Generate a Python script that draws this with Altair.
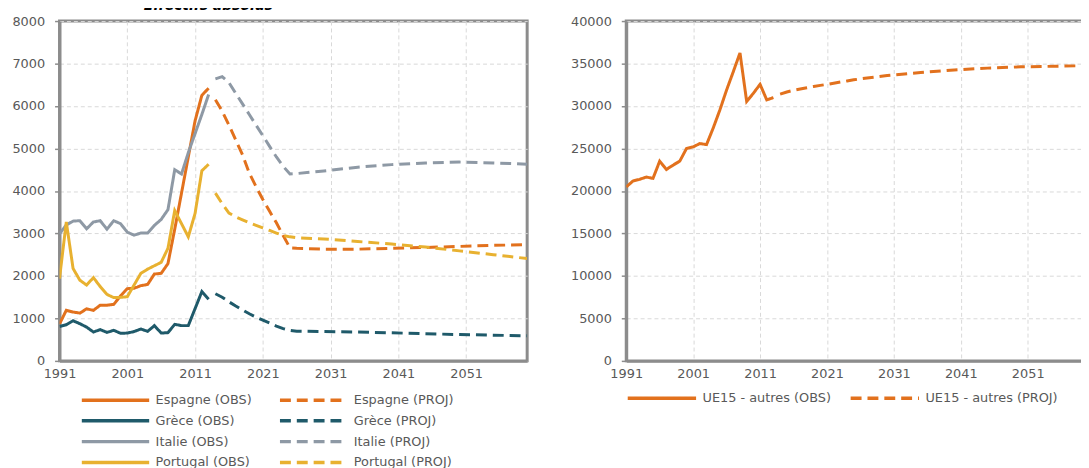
import altair as alt
import pandas as pd

# ---------------- data ----------------
obs_years = list(range(1991, 2014))
proj_years = [2014, 2015, 2016, 2017, 2018, 2019, 2020, 2021, 2022, 2023, 2024, 2025, 2026,
              2030, 2035, 2040, 2045, 2050, 2055, 2060]

pays = ["Espagne", "Grèce", "Italie", "Portugal"]

espagne_obs = [870, 1190, 1150, 1125, 1225, 1190, 1310, 1310, 1330, 1530, 1700, 1710, 1770,
               1800, 2045, 2060, 2290, 3100, 3950, 4800, 5650, 6250, 6420]
grece_obs = [810, 850, 945, 875, 795, 680, 735, 670, 720, 650, 655, 690, 750, 695, 830, 655,
             665, 860, 830, 830, 1230, 1630, 1450]
italie_obs = [2990, 3200, 3290, 3300, 3110, 3270, 3300, 3100, 3300, 3230, 3030, 2960, 3010,
              3010, 3190, 3330, 3560, 4500, 4400, 4900, 5350, 5800, 6270]
portugal_obs = [1940, 3270, 2175, 1900, 1785, 1960, 1750, 1565, 1490, 1495, 1510, 1785, 2060,
                2160, 2240, 2320, 2650, 3540, 3230, 2920, 3470, 4475, 4630]

espagne_proj = [6150, 5880, 5550, 5200, 4850, 4420, 4100, 3800, 3520, 3250, 2950, 2660, 2650,
                2630, 2630, 2650, 2670, 2695, 2720, 2735]
grece_proj = [1580, 1500, 1390, 1290, 1200, 1110, 1030, 960, 890, 820, 760, 720, 700,
              690, 680, 660, 640, 620, 605, 590]
italie_proj = [6640, 6690, 6550, 6300, 6050, 5800, 5550, 5300, 5050, 4800, 4580, 4400, 4410,
               4470, 4560, 4620, 4660, 4680, 4660, 4630]
portugal_proj = [3950, 3700, 3480, 3390, 3320, 3250, 3190, 3130, 3070, 3010, 2950, 2920, 2900,
                 2870, 2810, 2750, 2680, 2590, 2500, 2410]

ue15_name = "UE15 - autres"
ue15_obs = [20470, 21170, 21370, 21640, 21480, 23510, 22530, 23040, 23510, 24990, 25190, 25580,
            25460, 27410, 29550, 31890, 34040, 36250, 30530, 31500, 32550, 30720, 30990]
ue15_proj = [31400, 31650, 31850, 32000, 32150, 32300, 32430, 32550, 32680, 32820, 32950, 33080,
             33200, 33580, 33940, 34250, 34460, 34610, 34680, 34750]

x_ticks = [1991, 2001, 2011, 2021, 2031, 2041, 2051]

# ---------------- styles ----------------
pays_colors = ["#E2711D", "#1F5A6A", "#8E99A5", "#E8B130"]
ue15_color = "#E2711D"
FONT = "DejaVu Sans"
TXT = "#595959"
DASH = [11, 6]
SOLID = [1, 0]


def build(names, obs_lists, proj_lists):
    rows = []
    order = []
    for name, obs, proj in zip(names, obs_lists, proj_lists):
        o = f"{name} (OBS)"
        p = f"{name} (PROJ)"
        order += [o, p]
        for yr, v in zip(obs_years, obs):
            rows.append({"annee": yr, "valeur": v, "serie": o})
        for yr, v in zip(proj_years, proj):
            rows.append({"annee": yr, "valeur": v, "serie": p})
    return pd.DataFrame(rows), order


df_l, order_l = build(pays, [espagne_obs, grece_obs, italie_obs, portugal_obs],
                      [espagne_proj, grece_proj, italie_proj, portugal_proj])
df_r, order_r = build([ue15_name], [ue15_obs], [ue15_proj])

colors_l = [c for c in pays_colors for _ in range(2)]
dashes_l = [SOLID, DASH] * 4


def panel(df, order, colors, dashes, ymax, ystep, width, legend):
    x = alt.X("annee:Q", scale=alt.Scale(domain=[1991, 2060], nice=False, zero=False),
              axis=alt.Axis(values=x_ticks, format="d", title=None, ticks=False,
                            labelPadding=7, labelFlush=False))
    y = alt.Y("valeur:Q", scale=alt.Scale(domain=[0, ymax], nice=False),
              axis=alt.Axis(values=list(range(0, ymax + 1, ystep)), format="d", title=None,
                            tickSize=5, labelPadding=10))
    return alt.Chart(df).mark_line(strokeWidth=3, clip=True).encode(
        x=x, y=y,
        color=alt.Color("serie:N", scale=alt.Scale(domain=order, range=colors), legend=legend),
        strokeDash=alt.StrokeDash("serie:N", scale=alt.Scale(domain=order, range=dashes),
                                  legend=legend),
        detail="serie:N",
    ).properties(width=width, height=343)


legend_l = alt.Legend(title=None, orient="none", legendX=16, legendY=376, columns=2,
                      direction="horizontal",
                      symbolType="M0,0H68", symbolSize=4, symbolStrokeWidth=3.5,
                      labelFont=FONT, labelFontSize=13, labelColor=TXT, labelOffset=68,
                      columnPadding=20, rowPadding=6)
legend_r = alt.Legend(title=None, orient="none", legendX=-5, legendY=374, columns=2,
                      direction="horizontal",
                      symbolType="M0,0H69", symbolSize=4, symbolStrokeWidth=3.5,
                      labelFont=FONT, labelFontSize=13, labelColor=TXT, labelOffset=69,
                      columnPadding=12)

left = panel(df_l, order_l, colors_l, dashes_l, 8000, 1000, 472, legend_l).properties(
    title=alt.TitleParams("Effectifs absolus", font=FONT, fontSize=14, fontWeight="bold",
                          fontStyle="italic", color="black", anchor="start", frame="group",
                          dx=85, offset=2)
)
right = panel(df_r, order_r, [ue15_color, ue15_color], [SOLID, DASH], 40000, 5000, 466,
              legend_r)

chart = alt.hconcat(left, right, spacing=100, bounds="flush").resolve_scale(
    color="independent", strokeDash="independent"
).configure(
    padding={"left": 2, "top": -13, "right": -9, "bottom": 0},
    font=FONT,
).configure_view(
    stroke="#8c8c8c", strokeWidth=3
).configure_axis(
    labelFont=FONT, labelFontSize=13, labelColor=TXT,
    domainColor="#8c8c8c", domainWidth=3,
    tickColor="#8c8c8c", tickWidth=1.5,
    gridColor="#d9d9d9", gridDash=[4, 3], gridWidth=1,
)

chart.save("out.html", embed_options={"renderer": "svg", "actions": False})
